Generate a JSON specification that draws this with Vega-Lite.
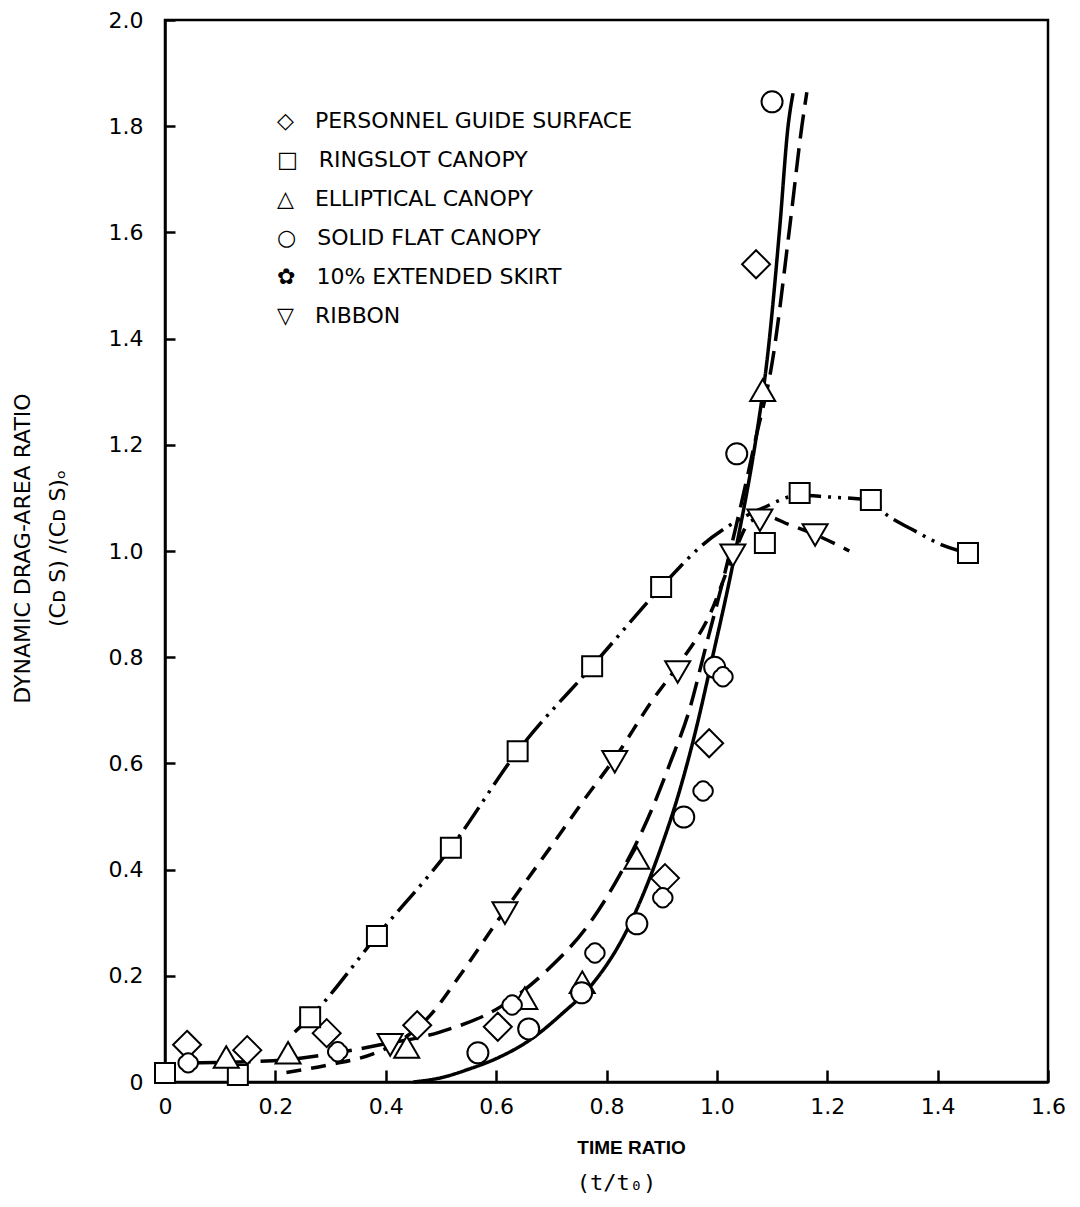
{
  "$schema": "https://vega.github.io/schema/vega-lite/v6.json",
  "width": 883,
  "height": 1062,
  "autosize": {"type": "none"},
  "padding": {"left": 165, "top": 20, "right": 32, "bottom": 125},
  "background": "white",
  "title": {
    "text": "(t/t₀)",
    "orient": "bottom",
    "anchor": "middle",
    "offset": 16,
    "dx": 10,
    "font": "DejaVu Sans Mono",
    "fontSize": 22,
    "fontWeight": "normal",
    "color": "black"
  },
  "config": {
    "view": {"stroke": "black", "strokeWidth": 2.5},
    "axis": {
      "grid": false,
      "domainColor": "black",
      "domainWidth": 2.5,
      "tickColor": "black",
      "tickWidth": 2.5,
      "labelColor": "black",
      "labelFont": "DejaVu Sans",
      "labelFontSize": 22,
      "labelOverlap": false,
      "labelFlush": false,
      "titleColor": "black"
    }
  },
  "resolve": {"axis": {"x": "independent", "y": "independent"}},
  "datasets": {
    "curves": [
      {"t": 0.45, "r": 0.0, "curve": "solid"},
      {"t": 0.5, "r": 0.008, "curve": "solid"},
      {"t": 0.55, "r": 0.024, "curve": "solid"},
      {"t": 0.6, "r": 0.044, "curve": "solid"},
      {"t": 0.661, "r": 0.079, "curve": "solid"},
      {"t": 0.721, "r": 0.13, "curve": "solid"},
      {"t": 0.77, "r": 0.179, "curve": "solid"},
      {"t": 0.837, "r": 0.286, "curve": "solid"},
      {"t": 0.873, "r": 0.37, "curve": "solid"},
      {"t": 0.9, "r": 0.445, "curve": "solid"},
      {"t": 0.93, "r": 0.54, "curve": "solid"},
      {"t": 0.96, "r": 0.655, "curve": "solid"},
      {"t": 0.991, "r": 0.795, "curve": "solid"},
      {"t": 1.033, "r": 0.996, "curve": "solid"},
      {"t": 1.074, "r": 1.233, "curve": "solid"},
      {"t": 1.091, "r": 1.36, "curve": "solid"},
      {"t": 1.114, "r": 1.61, "curve": "solid"},
      {"t": 1.129, "r": 1.8, "curve": "solid"},
      {"t": 1.138, "r": 1.862, "curve": "solid"},
      {"t": 0.05, "r": 0.036, "curve": "long"},
      {"t": 0.1, "r": 0.037, "curve": "long"},
      {"t": 0.15, "r": 0.038, "curve": "long"},
      {"t": 0.221, "r": 0.042, "curve": "long"},
      {"t": 0.317, "r": 0.056, "curve": "long"},
      {"t": 0.39, "r": 0.07, "curve": "long"},
      {"t": 0.498, "r": 0.094, "curve": "long"},
      {"t": 0.607, "r": 0.141, "curve": "long"},
      {"t": 0.692, "r": 0.21, "curve": "long"},
      {"t": 0.77, "r": 0.3, "curve": "long"},
      {"t": 0.824, "r": 0.39, "curve": "long"},
      {"t": 0.884, "r": 0.518, "curve": "long"},
      {"t": 0.915, "r": 0.6, "curve": "long"},
      {"t": 0.95, "r": 0.7, "curve": "long"},
      {"t": 0.98, "r": 0.82, "curve": "long"},
      {"t": 1.01, "r": 0.94, "curve": "long"},
      {"t": 1.04, "r": 1.07, "curve": "long"},
      {"t": 1.07, "r": 1.21, "curve": "long"},
      {"t": 1.101, "r": 1.36, "curve": "long"},
      {"t": 1.132, "r": 1.61, "curve": "long"},
      {"t": 1.154, "r": 1.8, "curve": "long"},
      {"t": 1.163, "r": 1.864, "curve": "long"},
      {"t": 0.22, "r": 0.018, "curve": "medium"},
      {"t": 0.3, "r": 0.033, "curve": "medium"},
      {"t": 0.377, "r": 0.053, "curve": "medium"},
      {"t": 0.43, "r": 0.08, "curve": "medium"},
      {"t": 0.48, "r": 0.125, "curve": "medium"},
      {"t": 0.534, "r": 0.2, "curve": "medium"},
      {"t": 0.607, "r": 0.31, "curve": "medium"},
      {"t": 0.697, "r": 0.44, "curve": "medium"},
      {"t": 0.757, "r": 0.528, "curve": "medium"},
      {"t": 0.815, "r": 0.61, "curve": "medium"},
      {"t": 0.884, "r": 0.72, "curve": "medium"},
      {"t": 0.93, "r": 0.785, "curve": "medium"},
      {"t": 0.987, "r": 0.88, "curve": "medium"},
      {"t": 1.029, "r": 0.99, "curve": "medium"},
      {"t": 1.06, "r": 1.055, "curve": "medium"},
      {"t": 1.09, "r": 1.065, "curve": "medium"},
      {"t": 1.13, "r": 1.05, "curve": "medium"},
      {"t": 1.18, "r": 1.03, "curve": "medium"},
      {"t": 1.24, "r": 1.0, "curve": "medium"},
      {"t": 0.235, "r": 0.094, "curve": "dashdot"},
      {"t": 0.263, "r": 0.122, "curve": "dashdot"},
      {"t": 0.384, "r": 0.275, "curve": "dashdot"},
      {"t": 0.518, "r": 0.441, "curve": "dashdot"},
      {"t": 0.639, "r": 0.623, "curve": "dashdot"},
      {"t": 0.774, "r": 0.783, "curve": "dashdot"},
      {"t": 0.899, "r": 0.932, "curve": "dashdot"},
      {"t": 0.933, "r": 0.97, "curve": "dashdot"},
      {"t": 0.969, "r": 1.007, "curve": "dashdot"},
      {"t": 1.024, "r": 1.049, "curve": "dashdot"},
      {"t": 1.083, "r": 1.081, "curve": "dashdot"},
      {"t": 1.15, "r": 1.105, "curve": "dashdot"},
      {"t": 1.199, "r": 1.102, "curve": "dashdot"},
      {"t": 1.279, "r": 1.095, "curve": "dashdot"},
      {"t": 1.308, "r": 1.068, "curve": "dashdot"},
      {"t": 1.355, "r": 1.04, "curve": "dashdot"},
      {"t": 1.409, "r": 1.011, "curve": "dashdot"},
      {"t": 1.455, "r": 0.996, "curve": "dashdot"}
    ],
    "points": [
      {"t": 0.04, "r": 0.07, "series": "PERSONNEL GUIDE SURFACE"},
      {"t": 0.149, "r": 0.06, "series": "PERSONNEL GUIDE SURFACE"},
      {"t": 0.293, "r": 0.092, "series": "PERSONNEL GUIDE SURFACE"},
      {"t": 0.457, "r": 0.107, "series": "PERSONNEL GUIDE SURFACE"},
      {"t": 0.603, "r": 0.104, "series": "PERSONNEL GUIDE SURFACE"},
      {"t": 0.906, "r": 0.384, "series": "PERSONNEL GUIDE SURFACE"},
      {"t": 0.986, "r": 0.638, "series": "PERSONNEL GUIDE SURFACE"},
      {"t": 1.071, "r": 1.54, "series": "PERSONNEL GUIDE SURFACE"},
      {"t": 0.0, "r": 0.017, "series": "RINGSLOT CANOPY"},
      {"t": 0.132, "r": 0.013, "series": "RINGSLOT CANOPY"},
      {"t": 0.263, "r": 0.122, "series": "RINGSLOT CANOPY"},
      {"t": 0.384, "r": 0.275, "series": "RINGSLOT CANOPY"},
      {"t": 0.518, "r": 0.441, "series": "RINGSLOT CANOPY"},
      {"t": 0.639, "r": 0.623, "series": "RINGSLOT CANOPY"},
      {"t": 0.774, "r": 0.783, "series": "RINGSLOT CANOPY"},
      {"t": 0.899, "r": 0.932, "series": "RINGSLOT CANOPY"},
      {"t": 1.087, "r": 1.015, "series": "RINGSLOT CANOPY"},
      {"t": 1.15, "r": 1.109, "series": "RINGSLOT CANOPY"},
      {"t": 1.279, "r": 1.096, "series": "RINGSLOT CANOPY"},
      {"t": 1.455, "r": 0.996, "series": "RINGSLOT CANOPY"},
      {"t": 0.111, "r": 0.047, "series": "ELLIPTICAL CANOPY"},
      {"t": 0.223, "r": 0.055, "series": "ELLIPTICAL CANOPY"},
      {"t": 0.438, "r": 0.066, "series": "ELLIPTICAL CANOPY"},
      {"t": 0.652, "r": 0.158, "series": "ELLIPTICAL CANOPY"},
      {"t": 0.756, "r": 0.188, "series": "ELLIPTICAL CANOPY"},
      {"t": 0.855, "r": 0.422, "series": "ELLIPTICAL CANOPY"},
      {"t": 1.083, "r": 1.303, "series": "ELLIPTICAL CANOPY"},
      {"t": 0.567, "r": 0.055, "series": "SOLID FLAT CANOPY"},
      {"t": 0.659, "r": 0.1, "series": "SOLID FLAT CANOPY"},
      {"t": 0.755, "r": 0.168, "series": "SOLID FLAT CANOPY"},
      {"t": 0.855, "r": 0.298, "series": "SOLID FLAT CANOPY"},
      {"t": 0.94, "r": 0.499, "series": "SOLID FLAT CANOPY"},
      {"t": 0.996, "r": 0.781, "series": "SOLID FLAT CANOPY"},
      {"t": 1.036, "r": 1.183, "series": "SOLID FLAT CANOPY"},
      {"t": 1.1, "r": 1.846, "series": "SOLID FLAT CANOPY"},
      {"t": 0.042, "r": 0.036, "series": "10% EXTENDED SKIRT"},
      {"t": 0.313, "r": 0.057, "series": "10% EXTENDED SKIRT"},
      {"t": 0.629, "r": 0.145, "series": "10% EXTENDED SKIRT"},
      {"t": 0.779, "r": 0.243, "series": "10% EXTENDED SKIRT"},
      {"t": 0.902, "r": 0.347, "series": "10% EXTENDED SKIRT"},
      {"t": 0.975, "r": 0.548, "series": "10% EXTENDED SKIRT"},
      {"t": 1.011, "r": 0.763, "series": "10% EXTENDED SKIRT"},
      {"t": 0.408, "r": 0.07, "series": "RIBBON"},
      {"t": 0.616, "r": 0.318, "series": "RIBBON"},
      {"t": 0.815, "r": 0.603, "series": "RIBBON"},
      {"t": 0.929, "r": 0.772, "series": "RIBBON"},
      {"t": 1.029, "r": 0.992, "series": "RIBBON"},
      {"t": 1.078, "r": 1.058, "series": "RIBBON"},
      {"t": 1.178, "r": 1.03, "series": "RIBBON"}
    ]
  },
  "layer": [
    {
      "data": {"name": "curves"},
      "mark": {"type": "line", "interpolate": "monotone", "color": "black", "strokeWidth": 3.5, "strokeCap": "butt"},
      "encoding": {
        "x": {
          "field": "t", "type": "quantitative",
          "scale": {"domain": [0, 1.6], "nice": false, "zero": false},
          "axis": {
            "orient": "bottom",
            "values": [0, 0.2, 0.4, 0.6, 0.8, 1.0, 1.2, 1.4, 1.6],
            "labelExpr": "datum.value == 0 ? '0' : format(datum.value, '.1f')",
            "ticks": false,
            "labelPadding": 14,
            "title": "TIME RATIO",
            "titleFont": "Liberation Sans",
            "titleFontSize": 19,
            "titleFontWeight": "bold",
            "titleX": 466,
            "titleY": 65,
            "titleBaseline": "middle",
            "titleAlign": "center"
          }
        },
        "y": {
          "field": "r", "type": "quantitative",
          "scale": {"domain": [0, 2.0], "nice": false, "zero": false},
          "axis": {
            "orient": "left",
            "values": [0, 0.2, 0.4, 0.6, 0.8, 1.0, 1.2, 1.4, 1.6, 1.8, 2.0],
            "labelExpr": "datum.value == 0 ? '0' : format(datum.value, '.1f')",
            "ticks": false,
            "labelPadding": 22,
            "title": ["DYNAMIC DRAG-AREA RATIO", "(Cᴅ S) /(Cᴅ S)ₒ"],
            "titleFont": "DejaVu Sans",
            "titleFontSize": 22,
            "titleFontWeight": "normal",
            "titleLineHeight": 35,
            "titleX": -153,
            "titleY": 528,
            "titleBaseline": "top",
            "titleAlign": "center",
            "titleAngle": 270
          }
        },
        "detail": {"field": "curve"},
        "strokeDash": {
          "field": "curve", "type": "nominal",
          "scale": {"domain": ["solid", "long", "medium", "dashdot"], "range": [[1, 0], [24, 10], [15, 10], [26, 7, 3, 7, 3, 7]]},
          "legend": null
        }
      }
    },
    {
      "data": {"name": "points"},
      "mark": {"type": "point", "filled": false, "color": "black", "fill": "white", "fillOpacity": 1, "strokeWidth": 2, "opacity": 1, "size": 400},
      "encoding": {
        "x": {
          "field": "t", "type": "quantitative",
          "axis": {
            "orient": "bottom",
            "offset": -12,
            "domain": false,
            "labels": false,
            "tickSize": 12,
            "title": null,
            "values": [0, 0.2, 0.4, 0.6, 0.8, 1.0, 1.2, 1.4, 1.6]
          }
        },
        "y": {
          "field": "r", "type": "quantitative",
          "axis": {
            "orient": "left",
            "offset": -10,
            "domain": false,
            "labels": false,
            "tickSize": 10,
            "title": null,
            "values": [0, 0.2, 0.4, 0.6, 0.8, 1.0, 1.2, 1.4, 1.6, 1.8, 2.0]
          }
        },
        "shape": {
          "field": "series", "type": "nominal",
          "scale": {
            "domain": ["PERSONNEL GUIDE SURFACE", "RINGSLOT CANOPY", "ELLIPTICAL CANOPY", "SOLID FLAT CANOPY", "10% EXTENDED SKIRT", "RIBBON"],
            "range": [
              "M0,-1.4L1.4,0L0,1.4L-1.4,0Z",
              "M-1,-1L1,-1L1,1L-1,1Z",
              "M0,-1.08L1.25,1.08L-1.25,1.08Z",
              "M1.05,0A1.05,1.05,0,1,1,-1.05,0A1.05,1.05,0,1,1,1.05,0Z",
              "M-0.62,-0.62A0.72,0.72,0,0,1,0.62,-0.62A0.72,0.72,0,0,1,0.62,0.62A0.72,0.72,0,0,1,-0.62,0.62A0.72,0.72,0,0,1,-0.62,-0.62Z",
              "M0,1.08L1.25,-1.08L-1.25,-1.08Z"
            ]
          },
          "legend": {
            "title": null,
            "orient": "none",
            "legendX": 90,
            "legendY": 90,
            "padding": 0,
            "labelFont": "DejaVu Sans",
            "labelFontSize": 22,
            "labelColor": "black",
            "labelLimit": 0,
            "labelExpr": "(datum.label == 'PERSONNEL GUIDE SURFACE' ? '◇' : datum.label == 'RINGSLOT CANOPY' ? '□' : datum.label == 'ELLIPTICAL CANOPY' ? '△' : datum.label == 'SOLID FLAT CANOPY' ? '○' : datum.label == '10% EXTENDED SKIRT' ? '✿' : '▽') + '\u00a0\u00a0\u00a0' + datum.label",
            "symbolSize": 1,
            "symbolStrokeWidth": 0,
            "rowPadding": 17,
            "labelOffset": 0
          }
        }
      }
    }
  ]
}
